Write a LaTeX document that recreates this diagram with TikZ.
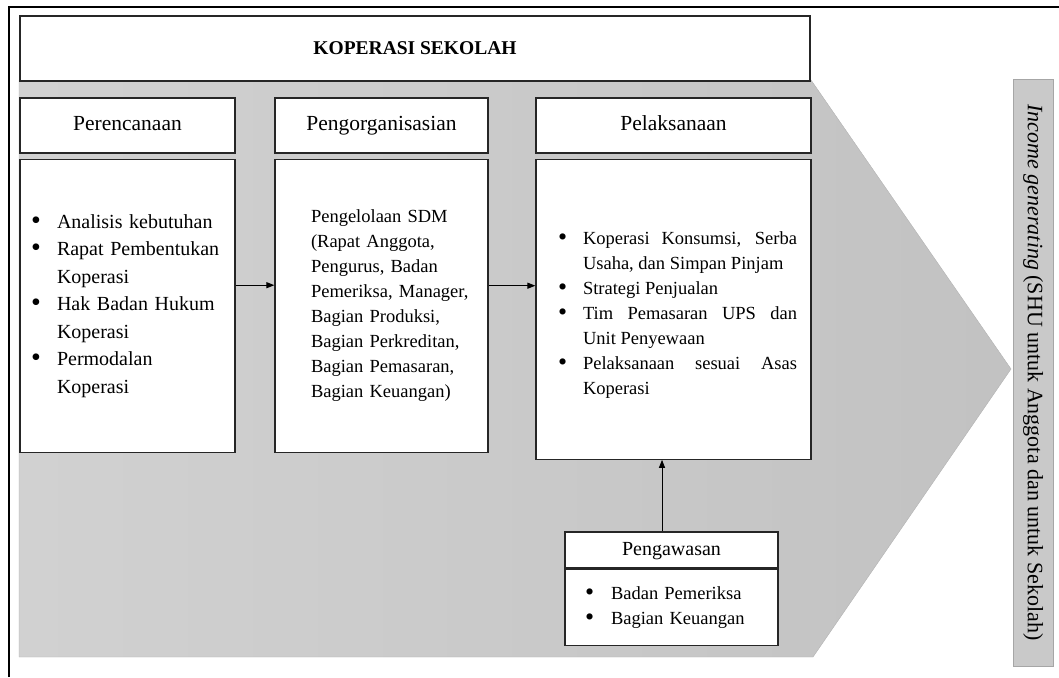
\documentclass[tikz,border=0pt]{standalone}
\usepackage{fontspec}
\setmainfont{Liberation Serif}
\usepackage{tikz}
\usetikzlibrary{arrows.meta, positioning, calc}

\newcommand{\bul}{\raisebox{-0.12ex}{\scalebox{1.4}{\textbullet}}}
\newcommand{\itm}{\makebox[26pt][l]{\bul}}
\newcommand{\ind}{\hspace*{26pt}}
\newcommand{\jitm}[1]{\noindent\hangindent=25pt\hangafter=1\makebox[25pt][l]{\bul}#1\par}

\begin{document}
\begin{tikzpicture}[
  x=1pt, y=-1pt,
  node distance=5pt,
  head/.style={rectangle, draw=black!85, fill=white, line width=1.2pt, minimum height=55pt, inner sep=0pt, text height=14pt, text depth=4pt, font=\fontsize{21.5}{24}\selectfont},
  body/.style={rectangle, draw=black!85, fill=white, line width=1.2pt, inner sep=0pt, align=left, font=\fontsize{18.5}{25}\selectfont},
  arrow/.style={-{Triangle[length=8pt, width=6pt]}, line width=1pt}
]
\useasboundingbox (0,0) rectangle (1059,677);

% Background arrow
\path[draw=black!30, left color=black!18, right color=black!24]
  (19,80) -- (811,80) -- (1011,369) -- (813,657) -- (19,657) -- cycle;

% Frame
\draw[line width=2pt] (9,677) -- (9,7) -- (1059,7);

% Title
\node[rectangle, draw=black!85, fill=white, line width=1.2pt, minimum width=790pt, minimum height=65pt, font=\fontsize{19.5}{24}\selectfont\bfseries] (title) at (415,48.5) {KOPERASI SEKOLAH};

% Headers
\node[head, minimum width=215pt] (pln) at (127.5,125.5) {Perencanaan};
\node[head, minimum width=213pt] (pgo) at (381.5,125.5) {Pengorganisasian};
\node[head, minimum width=275pt] (plk) at (673.5,125.5) {Pelaksanaan};

% Bodies
\node[body, below=of pln, minimum width=215pt, minimum height=293pt, text width=215pt, font=\fontsize{20}{27.5}\selectfont] (plnb) {\leftskip=11pt
  \itm Analisis kebutuhan\\
  \itm Rapat Pembentukan\\
  \ind Koperasi\\
  \itm Hak Badan Hukum\\
  \ind Koperasi\\
  \itm Permodalan\\
  \ind Koperasi\par};
\node[body, below=of pgo, minimum width=213pt, minimum height=293pt, text width=213pt] (pgob) {\leftskip=36pt
  Pengelolaan SDM\\
  (Rapat Anggota,\\
  Pengurus, Badan\\
  Pemeriksa, Manager,\\
  Bagian Produksi,\\
  Bagian Perkreditan,\\
  Bagian Pemasaran,\\
  Bagian Keuangan)\par};
\node[body, below=of plk, minimum width=275pt, minimum height=300pt, text width=275pt, align=justify] (plkb) {\leftskip=22pt\rightskip=14pt
  \mbox{}\par
  \jitm{Koperasi Konsumsi, Serba\linebreak Usaha, dan Simpan Pinjam}
  \jitm{Strategi Penjualan}
  \jitm{Tim Pemasaran UPS dan\linebreak Unit Penyewaan}
  \jitm{Pelaksanaan sesuai Asas\linebreak Koperasi}};

% Pengawasan
\node[head, minimum width=213pt, minimum height=36pt, font=\fontsize{20}{24}\selectfont] (pgw) at (671.5,550) {Pengawasan};
\node[body, below=0pt of pgw, minimum width=213pt, minimum height=76pt, text width=213pt] (pgwb) {\leftskip=20pt
  \itm Badan Pemeriksa\\
  \itm Bagian Keuangan\par};

% Income
\node[rectangle, draw=black!35, fill=black!21, rotate=-90, minimum width=587pt, minimum height=40pt, inner sep=0pt, font=\fontsize{22}{24}\selectfont] (inc) at (1033,372.5) {\textit{Income generating} (SHU untuk Anggota dan untuk Sekolah)};

% Arrows
\draw[arrow] ([yshift=20.5pt]plnb.east) -- ([yshift=20.5pt]plnb.east -| pgob.west);
\draw[arrow] ([yshift=20pt]pgob.east) -- ([yshift=20pt]pgob.east -| plkb.west);
\draw[arrow] ([xshift=-9.5pt]pgw.north) -- ([xshift=-9.5pt]pgw.north |- plkb.south);

\end{tikzpicture}
\end{document}
